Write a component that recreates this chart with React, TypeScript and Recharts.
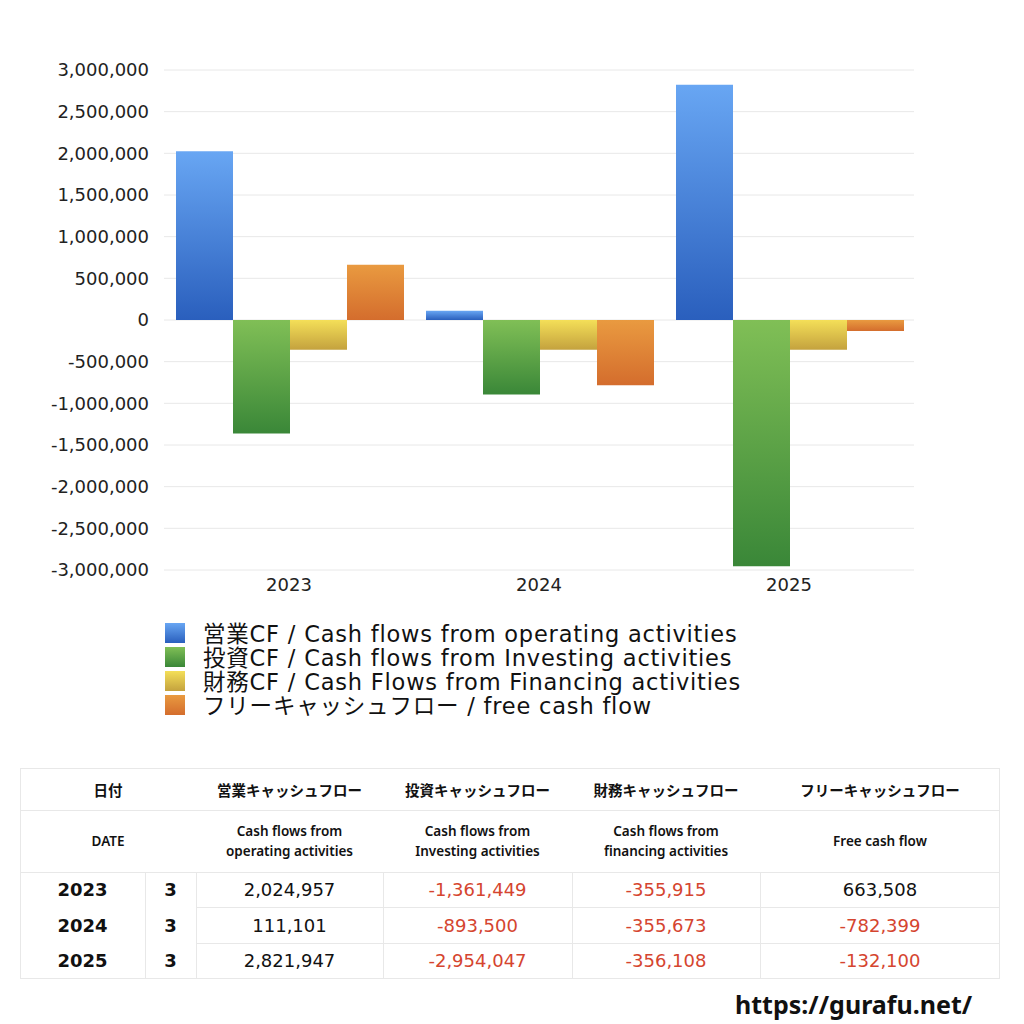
import React from "react";
import { BarChart, Bar, XAxis, YAxis, CartesianGrid } from "recharts";

const years = ["2023", "2024", "2025"];
const months = ["3", "3", "3"];
const operating = [2024957, 111101, 2821947];
const investing = [-1361449, -893500, -2954047];
const financing = [-355915, -355673, -356108];
const freeCash = [663508, -782399, -132100];
const yTicks = [-3000000, -2500000, -2000000, -1500000, -1000000, -500000, 0, 500000, 1000000, 1500000, 2000000, 2500000, 3000000];

const legendLabels = [
  "営業CF / Cash flows from operating activities",
  "投資CF / Cash flows from Investing activities",
  "財務CF / Cash Flows from Financing activities",
  "フリーキャッシュフロー / free cash flow",
];
const headerJa = ["営業キャッシュフロー", "投資キャッシュフロー", "財務キャッシュフロー", "フリーキャッシュフロー"];
const headerEn = [
  ["Cash flows from", "operating activities"],
  ["Cash flows from", "Investing activities"],
  ["Cash flows from", "financing activities"],
  ["Free cash flow"],
];

const data = years.map((y, i) => ({
  year: y,
  op: operating[i],
  inv: investing[i],
  fin: financing[i],
  free: freeCash[i],
}));

const grads = [
  { id: "gOp", top: "#68a6f3", bottom: "#2a5fbd" },
  { id: "gInv", top: "#80bf56", bottom: "#3a8738" },
  { id: "gFin", top: "#f4df58", bottom: "#c4a23e" },
  { id: "gFree", top: "#e99a40", bottom: "#d46d2d" },
];

const FONT = "'Noto Sans', 'Noto Sans CJK JP', sans-serif";
const NUMFONT = "'DejaVu Sans', 'Noto Sans', sans-serif";
const LEGFONT = "'DejaVu Sans', 'Noto Sans CJK JP', sans-serif";
const fmt = (v: number) => v.toLocaleString("en-US");
const BORDER = "1px solid #e8e8e8";

const colX = [20, 145, 196, 383, 572, 760, 1000];
const rowY = [872, 907, 943, 978];

export default function App() {
  const seriesCols = [operating, investing, financing, freeCash];
  return (
    <div style={{ position: "absolute", left: 0, top: 0, width: 1024, height: 1024, background: "#fff", fontFamily: FONT, color: "#111" }}>
      <div style={{ position: "absolute", left: 0, top: 0 }}>
        <BarChart width={1024} height={620} data={data} margin={{ top: 70, right: 110, bottom: 0, left: 0 }} barCategoryGap="4.8%" barGap={0}>
          <defs>
            {grads.map((g) => (
              <linearGradient key={g.id} id={g.id} x1="0" y1="0" x2="0" y2="1">
                <stop offset="0%" stopColor={g.top} />
                <stop offset="100%" stopColor={g.bottom} />
              </linearGradient>
            ))}
          </defs>
          <CartesianGrid vertical={false} stroke="#e8e8e8" />
          <XAxis dataKey="year" axisLine={false} tickLine={false} height={50} tick={{ fontSize: 18, fill: "#222", fontFamily: NUMFONT }} />
          <YAxis
            domain={[-3000000, 3000000]}
            ticks={yTicks}
            interval={0}
            axisLine={false}
            tickLine={false}
            width={164}
            tickMargin={9}
            tickFormatter={fmt}
            tick={{ fontSize: 18, fill: "#222", fontFamily: NUMFONT }}
          />
          <Bar dataKey="op" fill="url(#gOp)" isAnimationActive={false} />
          <Bar dataKey="inv" fill="url(#gInv)" isAnimationActive={false} />
          <Bar dataKey="fin" fill="url(#gFin)" isAnimationActive={false} />
          <Bar dataKey="free" fill="url(#gFree)" isAnimationActive={false} />
        </BarChart>
      </div>

      {legendLabels.map((t, i) => (
        <div key={t} style={{ position: "absolute", left: 165, top: 623 + i * 24, height: 20, display: "flex", alignItems: "center" }}>
          <div style={{ width: 20, height: 20, background: `linear-gradient(${grads[i].top}, ${grads[i].bottom})` }} />
          <div style={{ marginLeft: 18, fontSize: 22.5, lineHeight: "22px", letterSpacing: "0.8px", whiteSpace: "nowrap", color: "#111", fontFamily: LEGFONT, position: "relative", top: 1 }}>{t}</div>
        </div>
      ))}

      {/* table */}
      <div style={{ position: "absolute", left: 20, top: 768, width: 980, height: 211, border: BORDER, boxSizing: "border-box" }} />
      <div style={{ position: "absolute", left: 20, top: 810, width: 980, borderTop: BORDER }} />
      <div style={{ position: "absolute", left: 20, top: 872, width: 980, borderTop: BORDER }} />
      {[907, 943].map((y) => (
        <div key={y} style={{ position: "absolute", left: 196, top: y, width: 804, borderTop: BORDER }} />
      ))}
      {colX.slice(1, 6).map((x) => (
        <div key={x} style={{ position: "absolute", left: x, top: 872, height: 106, borderLeft: BORDER }} />
      ))}

      <div style={{ position: "absolute", left: 20, top: 768, width: 176, height: 42, display: "flex", alignItems: "center", justifyContent: "center", fontSize: 14.5, fontWeight: 700, fontFamily: "'Noto Sans CJK JP', sans-serif" }}>日付</div>
      <div style={{ position: "absolute", left: 20, top: 810, width: 176, height: 62, display: "flex", alignItems: "center", justifyContent: "center", fontSize: 13.5, fontWeight: 600 }}>DATE</div>
      {headerJa.map((h, i) => (
        <div key={h} style={{ position: "absolute", left: colX[i + 2], top: 768, width: colX[i + 3] - colX[i + 2], height: 42, display: "flex", alignItems: "center", justifyContent: "center", fontSize: 14.5, fontWeight: 700, fontFamily: "'Noto Sans CJK JP', sans-serif" }}>{h}</div>
      ))}
      {headerEn.map((lines, i) => (
        <div key={i} style={{ position: "absolute", left: colX[i + 2], top: 810, width: colX[i + 3] - colX[i + 2], height: 62, display: "flex", flexDirection: "column", alignItems: "center", justifyContent: "center", fontSize: 13.5, fontWeight: 600, lineHeight: "20px" }}>
          {lines.map((l) => (
            <div key={l}>{l}</div>
          ))}
        </div>
      ))}
      {years.map((y, r) => (
        <React.Fragment key={y}>
          <div style={{ position: "absolute", left: colX[0], top: rowY[r], width: colX[1] - colX[0], height: rowY[r + 1] - rowY[r], display: "flex", alignItems: "center", justifyContent: "center", fontSize: 18, fontWeight: 700, fontFamily: NUMFONT }}>{y}</div>
          <div style={{ position: "absolute", left: colX[1], top: rowY[r], width: colX[2] - colX[1], height: rowY[r + 1] - rowY[r], display: "flex", alignItems: "center", justifyContent: "center", fontSize: 18, fontWeight: 700, fontFamily: NUMFONT }}>{months[r]}</div>
          {seriesCols.map((s, c) => (
            <div key={c} style={{ position: "absolute", left: colX[c + 2], top: rowY[r], width: colX[c + 3] - colX[c + 2], height: rowY[r + 1] - rowY[r], display: "flex", alignItems: "center", justifyContent: "center", fontSize: 18, fontFamily: NUMFONT, color: s[r] < 0 ? "#d5452f" : "#111" }}>{fmt(s[r])}</div>
          ))}
        </React.Fragment>
      ))}

      <div style={{ position: "absolute", left: 735, top: 987, fontSize: 25, fontWeight: 700, color: "#111", whiteSpace: "nowrap", fontFamily: "'Noto Sans', sans-serif" }}>https://gurafu.net/</div>
    </div>
  );
}
